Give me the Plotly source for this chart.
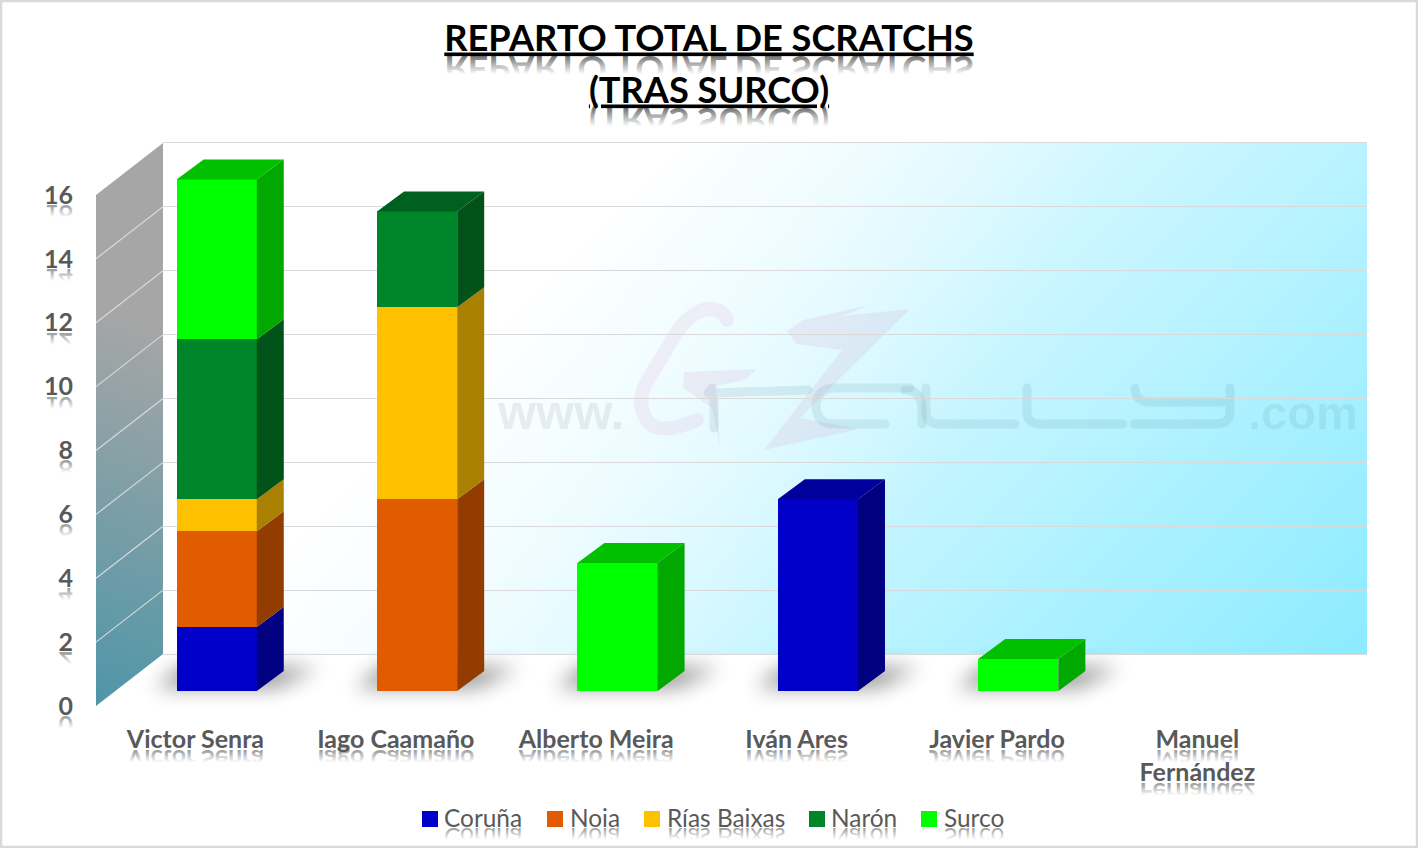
import base64
import plotly.graph_objects as go

# ---------- data ----------
players = ["Victor Senra", "Iago Caamaño", "Alberto Meira", "Iván Ares", "Javier Pardo", "Manuel<br>Fernández"]
coruna = [2, 0, 0, 6, 0, 0]
noia = [3, 6, 0, 0, 0, 0]
rias = [1, 6, 0, 0, 0, 0]
naron = [5, 3, 0, 0, 0, 0]
surco = [5, 0, 4, 0, 1, 0]
series_names = ["Coruña", "Noia", "Rías Baixas", "Narón", "Surco"]
series_values = [coruna, noia, rias, naron, surco]
value_ticks = [0, 2, 4, 6, 8, 10, 12, 14, 16]
title_lines = ["REPARTO TOTAL DE SCRATCHS", "(TRAS SURCO)"]

# ---------- style ----------
front = ["#0000C8", "#E15B00", "#FFC000", "#00862A", "#00FF00"]
side = ["#000080", "#923C00", "#AA8000", "#005218", "#00A800"]
top = ["#00009C", "#B04800", "#CC9A00", "#00611E", "#00C000"]
W, H = 1418, 848
FONT = "Lato"
GREY = "#595959"
CAT_PX0, CAT_STEP = 216.7, 200.4      # bar front centre for category 0 / spacing
V_PX = 31.97                          # pixels per unit on the bar front plane
BASE_PX = 691.0                       # y pixel of value 0 on the bar front plane
WALL_PX = 31.94
BAR_W = 0.4
DX, DY = 27 / CAT_STEP, 20 / V_PX     # depth of a bar in data units
LABEL_PX0 = 195.4
TITLE_SIZE = 36.2
LEG_SIZE = 24.4
TICK_SIZE = 25


def px(i):
    return CAT_PX0 + CAT_STEP * i


def reflect(text, x, base, size, weight=700, anchor="middle", gap=1, grad="fade"):
    by = base + gap
    return (f'<text transform="translate(0,{2*by}) scale(1,-1)" x="{x}" y="{by}" text-anchor="{anchor}" '
            f'font-family="{FONT}" font-size="{size}" font-weight="{weight}" fill="url(#{grad})">{text}</text>')


# ---------- decorative background ----------
svg = [f'<svg xmlns="http://www.w3.org/2000/svg" width="{W}" height="{H}" viewBox="0 0 {W} {H}">',
       '''<defs>
<linearGradient id="back" gradientUnits="userSpaceOnUse" x1="760" y1="60" x2="1367" y2="654">
<stop offset="0" stop-color="#FFFFFF"/><stop offset="0.05" stop-color="#F2FDFF"/><stop offset="1" stop-color="#8CEBFF"/></linearGradient>
<linearGradient id="backl" gradientUnits="userSpaceOnUse" x1="300" y1="300" x2="850" y2="620">
<stop offset="0" stop-color="#FFFFFF" stop-opacity="1"/><stop offset="1" stop-color="#FFFFFF" stop-opacity="0"/></linearGradient>
<linearGradient id="left" gradientUnits="userSpaceOnUse" x1="90" y1="700" x2="200" y2="340">
<stop offset="0" stop-color="#4F96A8"/><stop offset="1" stop-color="#A6A6A6"/></linearGradient>
<linearGradient id="fade" x1="0" y1="0" x2="0" y2="1">
<stop offset="0" stop-color="#808080" stop-opacity="0"/><stop offset="0.42" stop-color="#808080" stop-opacity="0"/><stop offset="0.8" stop-color="#808080" stop-opacity="0.75"/><stop offset="1" stop-color="#808080" stop-opacity="0.75"/></linearGradient>
<linearGradient id="fadek" x1="0" y1="0" x2="0" y2="1">
<stop offset="0" stop-color="#606060" stop-opacity="0"/><stop offset="0.4" stop-color="#606060" stop-opacity="0"/><stop offset="0.8" stop-color="#606060" stop-opacity="0.85"/><stop offset="1" stop-color="#606060" stop-opacity="0.85"/></linearGradient>
<filter id="blur" x="-50%" y="-100%" width="200%" height="300%"><feGaussianBlur stdDeviation="10"/></filter>
</defs>''',
       f'<rect x="0" y="0" width="{W}" height="{H}" fill="#FFFFFF"/>',
       '<rect x="163" y="143" width="1204" height="511" fill="url(#back)"/>',
       '<rect x="163" y="143" width="1204" height="511" fill="url(#backl)"/>',
       '<polygon points="96,195 163,143 163,654 96,706" fill="url(#left)"/>']
for k in range(1, 8):
    svg.append(f'<line x1="96" y1="{706-2*WALL_PX*k:.1f}" x2="163" y2="{654-2*WALL_PX*k:.1f}" stroke="#D9D9D9" stroke-width="1.2"/>')
# floor shadows under every category that has scratches
totals = [sum(s[i] for s in series_values) for i in range(len(players))]
for i, t in enumerate(totals):
    if t > 0:
        x0 = px(i) - 40
        x1 = px(i) + 40
        svg.append(f'<polygon points="{x0-22},688 {x1+20},688 {x1+62},668 {x0+8},664" fill="#000" opacity="0.4" filter="url(#blur)"/>')
# watermark logo
svg.append('<g fill="none" stroke-linecap="round" stroke-linejoin="round">'
           '<path d="M727,320 Q722,308 708,309 Q688,312 672,340 L645,385 Q636,405 648,422 Q660,436 697,420" stroke="#D070B0" stroke-opacity="0.10" stroke-width="14"/>'
           '<path d="M712,388 L708,393 L808,390 M714,428 V395 M910,388 H835 Q818,388 816,404 Q816,424 834,424 H885 M926,388 V412 Q926,424 940,424 H1015 M1027,388 V412 Q1027,424 1040,424 H1123 M1135,388 Q1135,402 1150,402 H1222 M1230,388 V412 Q1230,424 1216,424 H1134" stroke="#50828C" stroke-opacity="0.13" stroke-width="9"/>'
           '<path d="M905,390 Q922,390 922,410 V424" stroke="#50828C" stroke-opacity="0.13" stroke-width="9"/>'
           '</g>')
svg.append('<g fill="#C060A0" fill-opacity="0.10">'
           '<polygon points="787,331 803,320 870,305 842,316 910,309 800,418 860,429 764,450 806,396 842,350 796,344"/>'
           '<polygon points="684,372 757,369 745,380 716,386 720,448 712,408 683,388"/></g>')
# reflections of the texts
for line, base in zip(title_lines, [51, 103]):
    svg.append(reflect(line, 709, base, TITLE_SIZE, grad="fadek", gap=5))
for v in value_ticks:
    svg.append(reflect(str(v), 73, 706 - WALL_PX * v + 9, TICK_SIZE, anchor="end", gap=1))
label_lines = [p.split("<br>") for p in players]
for i, lines in enumerate(label_lines):
    xc = LABEL_PX0 + CAT_STEP * i
    for j, line in enumerate(lines):
        svg.append(reflect(line, xc, 749 + 33 * j, 25, gap=1))
legend_sq = [422, 547, 644, 809, 921]
legend_tx = [444, 570, 667, 831, 944]
for n, x in zip(series_names, legend_tx):
    svg.append(reflect(n, x, 827, LEG_SIZE, weight=400, anchor="start", gap=1))
# figure border
svg.append(f'<rect x="1" y="1" width="{W-2}" height="{H-2}" fill="none" stroke="#D9D9D9" stroke-width="2.5"/>')
svg.append('</svg>')
svg_uri = "data:image/svg+xml;base64," + base64.b64encode("".join(svg).encode("utf-8")).decode()

fig = go.Figure()

# invisible traces that create the wall-grid subplot and the label axes
fig.add_trace(go.Scatter(x=[0], y=[0], xaxis="x", yaxis="y", mode="lines", hoverinfo="skip", showlegend=False))

# front faces: stacked bars
for name, vals, col in zip(series_names, series_values, front):
    fig.add_trace(go.Bar(x=list(range(len(players))), y=vals, name=name, width=BAR_W,
                         marker=dict(color=col, line=dict(width=0)), xaxis="x2", yaxis="y2", showlegend=False))

# side and top faces
for i in range(len(players)):
    base = 0
    last = None
    for s, vals in enumerate(series_values):
        v = vals[i]
        if v == 0:
            continue
        xr = i + BAR_W / 2
        fig.add_trace(go.Scatter(x=[xr, xr + DX, xr + DX, xr, xr], y=[base, base + DY, base + v + DY, base + v, base],
                                 fill="toself", fillcolor=side[s], mode="lines", line=dict(width=0),
                                 xaxis="x2", yaxis="y2", hoverinfo="skip", showlegend=False))
        base += v
        last = s
    if last is not None:
        xl = i - BAR_W / 2
        xr = i + BAR_W / 2
        fig.add_trace(go.Scatter(x=[xl, xl + DX, xr + DX, xr, xl], y=[base, base + DY, base + DY, base, base],
                                 fill="toself", fillcolor=top[last], mode="lines", line=dict(width=0),
                                 xaxis="x2", yaxis="y2", hoverinfo="skip", showlegend=False))

fig.add_trace(go.Scatter(x=[0], y=[0], xaxis="x3", yaxis="y2", mode="lines", hoverinfo="skip", showlegend=False))
fig.add_trace(go.Scatter(x=[0], y=[0], xaxis="x2", yaxis="y3", mode="lines", hoverinfo="skip", showlegend=False))

tickfont = dict(family=FONT, size=25, color=GREY, weight=700)
title_text = "<br>".join(f'<span style="font-size:{TITLE_SIZE}px">{t}</span>' for t in title_lines)
fig.update_layout(
    width=W, height=H, autosize=False, margin=dict(l=0, r=0, t=0, b=0, pad=0),
    paper_bgcolor="rgba(0,0,0,0)", plot_bgcolor="rgba(0,0,0,0)", barmode="stack", showlegend=False,
    title=dict(text=title_text, x=0.5, xanchor="center", xref="paper", y=1 - 50.5 / H, yanchor="top", yref="paper",
               font=dict(family=FONT, size=40, color="#000000", weight=700, lineposition="under")),
    xaxis=dict(domain=[163 / W, 1367 / W], range=[0, 1], visible=False, anchor="y"),
    yaxis=dict(domain=[0, 1], range=[-(H - 654) / WALL_PX, 654 / WALL_PX], anchor="x", tickvals=value_ticks,
               showgrid=True, gridcolor="#D9D9D9", gridwidth=1.2, showticklabels=False, ticks="", zeroline=False, showline=False),
    xaxis2=dict(domain=[0, 1], range=[(0 - CAT_PX0) / CAT_STEP, (W - CAT_PX0) / CAT_STEP], visible=False, anchor="y2"),
    yaxis2=dict(domain=[0, 1], range=[-(H - BASE_PX) / V_PX, BASE_PX / V_PX], visible=False, anchor="x2"),
    xaxis3=dict(domain=[0, 1], range=[(0 - LABEL_PX0) / CAT_STEP, (W - LABEL_PX0) / CAT_STEP], anchor="free",
                position=1 - 722 / H, side="bottom", tickmode="array", tickvals=list(range(len(players))), ticktext=players,
                ticks="", showgrid=False, zeroline=False, showline=False, tickangle=0, tickfont=tickfont),
    yaxis3=dict(domain=[0, 1], range=[-(H - 706) / WALL_PX, 706 / WALL_PX], anchor="free", position=73 / W, side="left",
                tickmode="array", tickvals=value_ticks, ticktext=[str(v) for v in value_ticks],
                ticks="", showgrid=False, zeroline=False, showline=False, tickfont=dict(family=FONT, size=TICK_SIZE, color=GREY, weight=700)),
    images=[dict(source=svg_uri, xref="paper", yref="paper", x=0, y=1, sizex=1, sizey=1, sizing="stretch",
                 xanchor="left", yanchor="top", layer="below")],
)

# legend keys and labels, watermark text
shapes = []
annotations = []
for col, n, xs, xt in zip(front, series_names, legend_sq, legend_tx):
    shapes.append(dict(type="rect", xref="paper", yref="paper", x0=xs / W, x1=(xs + 16) / W, y0=1 - 827 / H, y1=1 - 811 / H,
                       fillcolor=col, line=dict(width=0)))
    annotations.append(dict(text=n, xref="paper", yref="paper", x=xt / W, y=1 - 817 / H, xanchor="left", yanchor="middle",
                            showarrow=False, borderpad=0, xshift=-1, font=dict(family=FONT, size=LEG_SIZE, color=GREY)))
for t, x, sz in [("www.", 497, 49), (".com", 1248, 47)]:
    annotations.append(dict(text=t, xref="paper", yref="paper", x=x / W, y=1 - 412 / H, xanchor="left", yanchor="middle",
                            showarrow=False, borderpad=0, xshift=-1,
                            font=dict(family="Liberation Sans", size=sz, weight=700, color="rgba(70,90,100,0.10)")))
fig.update_layout(shapes=shapes, annotations=annotations)

fig.write_html("out.html", config={"displayModeBar": False},
               post_script="document.body.style.margin='0';document.body.style.overflow='hidden';")
